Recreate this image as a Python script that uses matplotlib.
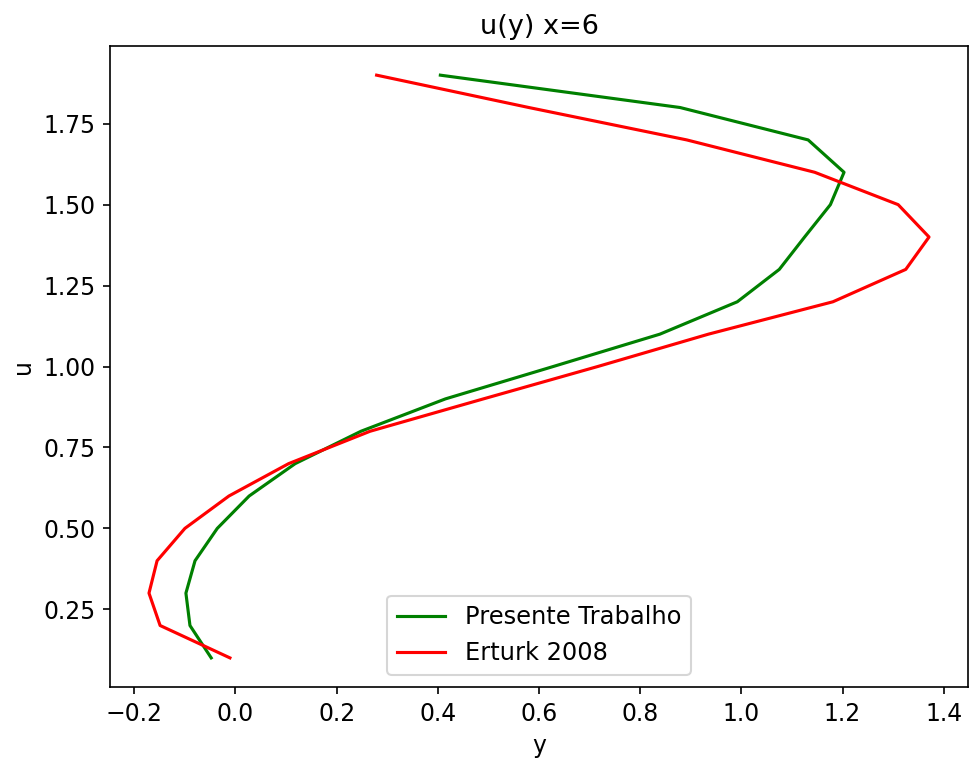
import numpy as np
import matplotlib
matplotlib.use('Agg')
import matplotlib.pyplot as plt

# u-values (vertical axis)
u_vals = [0.1, 0.2, 0.3, 0.4, 0.5, 0.6, 0.7, 0.8, 0.9, 1.0,
          1.1, 1.2, 1.3, 1.4, 1.5, 1.6, 1.7, 1.8, 1.9]

# y-values
presente = [-0.048, -0.090, -0.098, -0.080, -0.036, 0.027, 0.118, 0.248, 0.415, 0.628,
            0.839, 0.992, 1.075, 1.125, 1.176, 1.203, 1.132, 0.879, 0.405]
erturk = [-0.011, -0.149, -0.171, -0.155, -0.100, -0.013, 0.105, 0.266, 0.490, 0.716,
          0.935, 1.181, 1.325, 1.371, 1.310, 1.145, 0.892, 0.580, 0.279]

fig = plt.figure(figsize=(969 / 150, 762 / 150), dpi=150)
fig.subplots_adjust(left=0.1135, right=0.999, bottom=0.0984, top=0.9396)

plt.plot(presente, u_vals, color='green', label='Presente Trabalho')
plt.plot(erturk, u_vals, color='red', label='Erturk 2008')

plt.title('u(y) x=6', fontsize=13)
plt.xlabel('y', fontsize=11.3)
plt.ylabel('u', fontsize=11.3)
plt.tick_params(labelsize=11.3)
plt.legend(loc='lower center', fontsize=11.6)

plt.savefig('out.png', dpi=150)
